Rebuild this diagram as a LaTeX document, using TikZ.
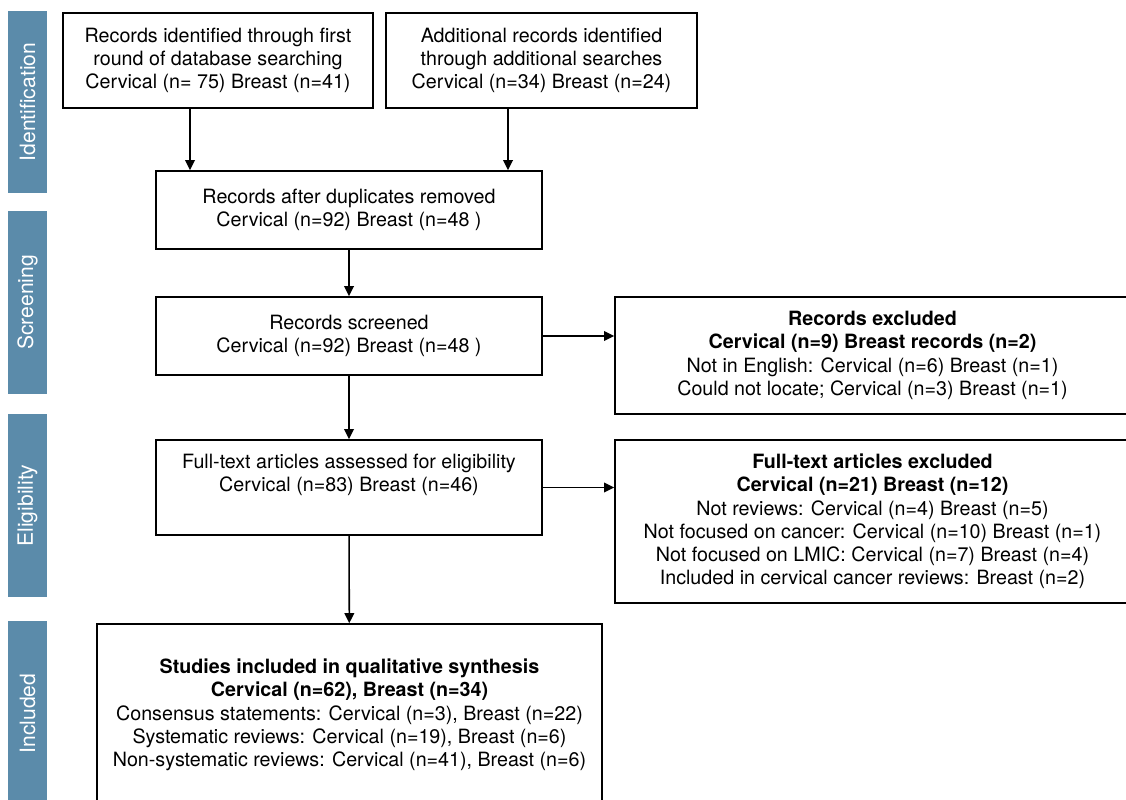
\documentclass[tikz,border=0pt]{standalone}
\usepackage{fontspec}
\setmainfont{TeX Gyre Heros}
\usepackage{xcolor}
\usetikzlibrary{arrows.meta}

\definecolor{phaseblue}{RGB}{91,139,170}
\newcommand{\boxfont}{\fontsize{14}{16.5}\selectfont}
\newcommand{\barfont}{\fontsize{15}{18}\selectfont}

\tikzset{
  box/.style={draw,line width=1.1pt,align=center,inner sep=0pt,font=\boxfont},
  phasebar/.style={fill=phaseblue,text=white,rotate=90,inner sep=0pt,
    minimum height=0.975cm,font=\barfont},
  arr/.style={line width=1.1pt,-{Triangle[length=2.5mm,width=2.4mm]}}
}

\begin{document}
\begin{tikzpicture}[x=0.025cm,y=-0.025cm]
  \useasboundingbox (0,0) rectangle (1126,800);
  \clip (0,0) rectangle (1126,800);

  % phase bars on the left
  \foreach \id/\y/\h/\lbl in {idf/102/182/Identification,scr/302.5/183/Screening,
      elg/505.5/183/Eligibility,inc/713.5/185/Included} {
    \node[phasebar,minimum width=\h*0.025cm] (bar-\id) at (27.5,\y) {\lbl};
  }

  % boxes
  \node[box,minimum width=7.75cm,minimum height=2.375cm] (first) at (218,60.5)
    {Records identified through first\\round of database searching\\Cervical (n= 75) Breast (n=41)};
  \node[box,minimum width=7.775cm,minimum height=2.375cm] (extra) at (541.5,60.5)
    {Additional records identified\\through additional searches\\Cervical (n=34) Breast (n=24)};
  \node[box,minimum width=9.65cm,minimum height=1.95cm] (dedup) at (349,210)
    {Records after duplicates removed\\Cervical (n=92) Breast (n=48 )};
  \node[box,minimum width=9.65cm,minimum height=1.95cm] (screened) at (349,336)
    {Records screened\\Cervical (n=92) Breast (n=48 )};
  \node[box,minimum width=9.65cm,minimum height=2.375cm] (fulltext) at (349,487.5)
    {Full-text articles assessed for eligibility\\Cervical (n=83) Breast (n=46)\\\strut};
  \node[box,minimum width=12.875cm,minimum height=2.925cm] (recex) at (872.5,355.5)
    {\textbf{Records excluded}\\\textbf{Cervical (n=9) Breast records (n=2)}\\
     Not in English: Cervical (n=6) Breast (n=1)\\
     Could not locate; Cervical (n=3) Breast (n=1)};
  \node[box,minimum width=12.875cm,minimum height=4.075cm] (fullex) at (872.5,521.5)
    {\textbf{Full-text articles excluded}\\\textbf{Cervical (n=21) Breast (n=12)}\\
     Not reviews: Cervical (n=4) Breast (n=5)\\
     Not focused on cancer: Cervical (n=10) Breast (n=1)\\
     Not focused on LMIC: Cervical (n=7) Breast (n=4)\\
     Included in cervical cancer reviews: Breast (n=2)};
  \node[box,minimum width=12.625cm,minimum height=4.55cm] (studies) at (349.5,715)
    {\textbf{Studies included in qualitative synthesis}\\\textbf{Cervical (n=62), Breast (n=34)}\\
     Consensus statements: Cervical (n=3), Breast (n=22)\\
     Systematic reviews: Cervical (n=19), Breast (n=6)\\
     Non-systematic reviews: Cervical (n=41), Breast (n=6)};

  % arrows
  \draw[arr] (first.south -| 190,0) -- (190,0 |- dedup.north);
  \draw[arr] (extra.south -| 508,0) -- (508,0 |- dedup.north);
  \draw[arr] (dedup) -- (screened);
  \draw[arr] (screened) -- (fulltext);
  \draw[arr] (fulltext) -- (studies);
  \draw[arr] (screened.east) -- (screened.east -| recex.west);
  \draw[arr] (fulltext.east) -- (fulltext.east -| fullex.west);
\end{tikzpicture}
\end{document}
